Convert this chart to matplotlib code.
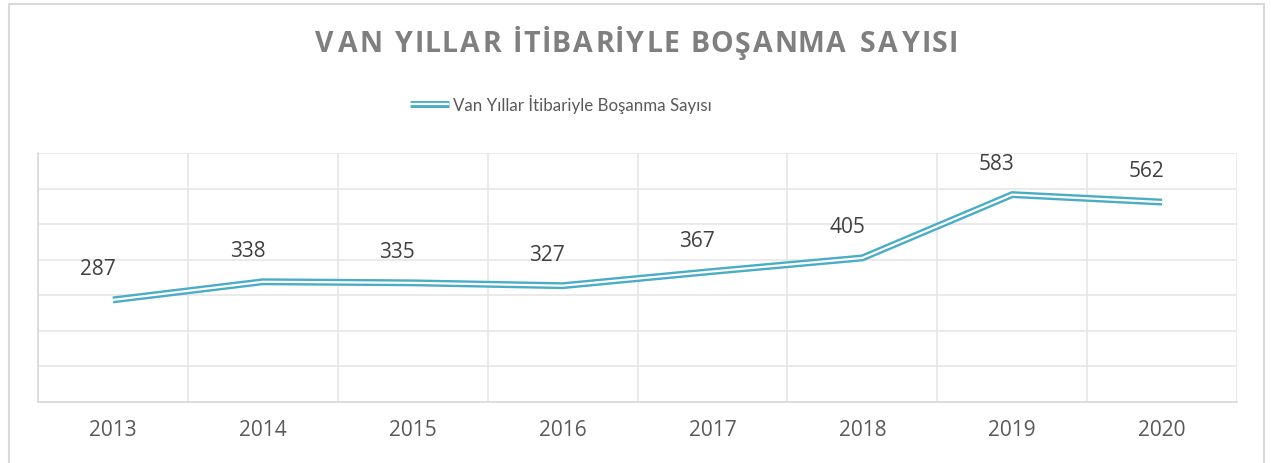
import matplotlib.pyplot as plt
from matplotlib.patches import Rectangle
from matplotlib.lines import Line2D
from matplotlib.textpath import TextPath
from matplotlib.font_manager import FontProperties
import matplotlib.patheffects as pe

plt.rcParams['font.family'] = ['Open Sans', 'DejaVu Sans']

years = ['2013', '2014', '2015', '2016', '2017', '2018', '2019', '2020']
divorces = [287, 338, 335, 327, 367, 405, 583, 562]
series_name = 'Van Yıllar İtibariyle Boşanma Sayısı'
title = 'VAN YILLAR İTİBARİYLE BOŞANMA SAYISI'

line_color = '#4BACC6'
grid_color = '#e6e6e6'
W, H = 1271, 464

fig = plt.figure(figsize=(W / 100, H / 100), dpi=100)
ax = fig.add_axes([38 / W, 61 / H, 1199 / W, 249 / H])

# chart border
fig.patches.append(Rectangle((9 / W, -0.05), 1255 / W, 1.05 - 5 / H,
                             transform=fig.transFigure, fill=False,
                             edgecolor='#d9d9d9', linewidth=1.5))

x = list(range(len(years)))
# double line: thick coloured stroke with a white core
ax.plot(x, divorces, color=line_color, linewidth=5.0, solid_joinstyle='miter',
        solid_capstyle='butt', zorder=3)
ax.plot(x, divorces, color='white', linewidth=1.6, solid_joinstyle='miter',
        solid_capstyle='butt', zorder=4)

for xi, v in zip(x, divorces):
    ax.annotate(str(v), (xi, v), xytext=(-11, 15), textcoords='offset points',
                ha='center', va='bottom', fontsize=15, color='#404040')

ax.set_xlim(-0.5, len(years) - 0.5)
ax.set_ylim(0, 700)
ax.set_yticks(range(0, 701, 100))
ax.set_xticks([i - 0.5 for i in range(len(years) + 1)], minor=False)
ax.set_xticklabels([])
ax.set_xticks(x, minor=True)
ax.set_xticklabels(years, minor=True)
ax.tick_params(axis='x', which='both', length=0, pad=12)
ax.tick_params(axis='x', which='minor', labelsize=15, labelcolor='#595959')
ax.tick_params(axis='y', length=0, labelleft=False)
ax.grid(True, which='major', color=grid_color, linewidth=1.2)
ax.set_axisbelow(True)
for side in ['top', 'right']:
    ax.spines[side].set_visible(False)
for side in ['left', 'bottom']:
    ax.spines[side].set_color('#d9d9d9')
    ax.spines[side].set_linewidth(1.2)

# title with letter spacing, placed char by char to span a fixed width
title_size = 20.5
fp = FontProperties(family='Open Sans', weight='bold', size=title_size)
px = 100 / 72
widths = []
for ch in title:
    if ch == ' ':
        widths.append(TextPath((0, 0), 'n', prop=fp).get_extents().width * px * 0.45)
    else:
        widths.append(TextPath((0, 0), ch, prop=fp).get_extents().width * px)
left, right = 315, 955
gap = (right - left - sum(widths)) / (len(title) - 1)
cx = left
for ch, w in zip(title, widths):
    if ch != ' ':
        fig.text((cx + w / 2) / W, 1 - 45 / H, ch, ha='center', va='center',
                 fontproperties=fp, color='#7f7f7f')
    cx += w + gap

# legend
handle = Line2D([], [], color=line_color, linewidth=5.0,
                path_effects=[pe.Stroke(linewidth=5.0, foreground=line_color, capstyle='butt'),
                              pe.Stroke(linewidth=1.6, foreground='white', capstyle='butt')])
fig.legend([handle], [series_name], loc='center', bbox_to_anchor=(561 / W, 1 - 104 / H),
           frameon=False, handlelength=2.25, handletextpad=0.25, labelcolor='#595959',
           prop=FontProperties(family=['Lato', 'DejaVu Sans'], size=12.2))

fig.savefig('out.png', dpi=100)
